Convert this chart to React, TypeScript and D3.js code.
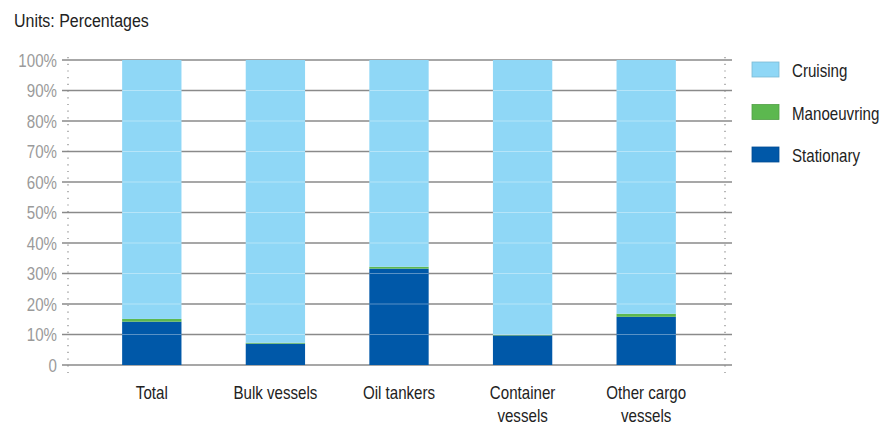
import React from "react";
import * as d3 from "d3";

// Share of time spent in each operating mode, by vessel type (%)
const categories: string[][] = [
  ["Total"],
  ["Bulk vessels"],
  ["Oil tankers"],
  ["Container", "vessels"],
  ["Other cargo", "vessels"],
];
const stationary = [14.2, 7.0, 31.6, 9.7, 15.8];
const manoeuvring = [0.9, 0.3, 0.6, 0.2, 1.0];
const cruising = stationary.map((s, i) => 100 - s - manoeuvring[i]);

const yTicks = [0, 10, 20, 30, 40, 50, 60, 70, 80, 90, 100];
const seriesNames = ["Stationary", "Manoeuvring", "Cruising"];
const legendOrder = ["Cruising", "Manoeuvring", "Stationary"];
const colors: Record<string, string> = {
  Cruising: "#8fd7f6",
  Manoeuvring: "#5cb84f",
  Stationary: "#0058a8",
};

const W = 887;
const H = 425;
const FONT = "'Liberation Sans', Arial, sans-serif";
const SQUEEZE = 0.84;

// Text drawn in a narrowed face: horizontally condensed around its anchor point
function NText(props: {
  x: number;
  y: number;
  size: number;
  fill: string;
  anchor?: "start" | "middle" | "end";
  children: React.ReactNode;
}) {
  const { x, y, size, fill, anchor = "start", children } = props;
  return (
    <text
      transform={`translate(${x},${y}) scale(${SQUEEZE},1)`}
      fontSize={size}
      fill={fill}
      textAnchor={anchor}
    >
      {children}
    </text>
  );
}

export default function App() {
  const y = d3.scaleLinear().domain([0, 100]).range([365, 60]);
  const keys = categories.map((c) => c.join(" "));
  const x = d3
    .scaleBand<string>()
    .domain(keys)
    .range([90, 708])
    .paddingInner(0.52)
    .paddingOuter(0.26);

  const rows = keys.map((k, i) => ({
    key: k,
    Stationary: stationary[i],
    Manoeuvring: manoeuvring[i],
    Cruising: cruising[i],
  }));
  const stack = d3.stack<any>().keys(seriesNames)(rows);

  const gridX0 = 62;
  const gridX1 = 732;
  const axisX = 68;
  const rightX = 725;
  const inner = yTicks.filter((t) => t > 0 && t < 100);

  return (
    <svg
      width={W}
      height={H}
      style={{ position: "absolute", left: 0, top: 0, background: "#fff" }}
      fontFamily={FONT}
    >
      <NText x={14} y={27} size={19} fill="#222">
        Units: Percentages
      </NText>

      {/* gridlines */}
      {yTicks.map((t) => (
        <line
          key={t}
          x1={gridX0}
          x2={gridX1}
          y1={y(t)}
          y2={y(t)}
          stroke="#8a8a8a"
          strokeWidth={1.3}
        />
      ))}

      {/* bars */}
      {stack.map((layer) => (
        <g key={layer.key} fill={colors[layer.key]}>
          {layer.map((d, i) => (
            <rect
              key={i}
              x={x(keys[i])}
              width={x.bandwidth()}
              y={y(d[1])}
              height={y(d[0]) - y(d[1])}
            />
          ))}
        </g>
      ))}

      {/* faint grid showing through the bars */}
      {keys.map((k) =>
        inner.map((t) => (
          <line
            key={k + t}
            x1={x(k)}
            x2={(x(k) ?? 0) + x.bandwidth()}
            y1={y(t)}
            y2={y(t)}
            stroke="#ffffff"
            strokeOpacity={0.35}
            strokeWidth={1}
          />
        ))
      )}

      {/* dotted vertical axes */}
      <line x1={axisX} x2={axisX} y1={57} y2={373} stroke="#888" strokeWidth={1.2} strokeDasharray="1.2 5.5" />
      <line x1={rightX} x2={rightX} y1={57} y2={373} stroke="#888" strokeWidth={1.2} strokeDasharray="1.2 5.5" />

      {/* y tick labels */}
      {yTicks.map((t) => (
        <NText key={t} x={57} y={y(t) + 6.5} anchor="end" size={18} fill="#9a9a9a">
          {t === 0 ? "0" : `${t}%`}
        </NText>
      ))}

      {/* category labels */}
      {categories.map((lines, i) => {
        const cx = (x(keys[i]) ?? 0) + x.bandwidth() / 2;
        return lines.map((l, j) => (
          <NText key={i + "-" + j} x={cx} y={399 + j * 23} anchor="middle" size={18} fill="#222">
            {l}
          </NText>
        ));
      })}

      {/* legend */}
      {legendOrder.map((name, i) => (
        <g key={name} transform={`translate(752, ${62 + i * 42.5})`}>
          <rect
            width={27}
            height={15}
            fill={colors[name]}
            stroke={d3.color(colors[name])!.darker(0.4).formatHex()}
            strokeWidth={0.8}
          />
          <NText x={40} y={15} size={18} fill="#222">
            {name}
          </NText>
        </g>
      ))}
    </svg>
  );
}
